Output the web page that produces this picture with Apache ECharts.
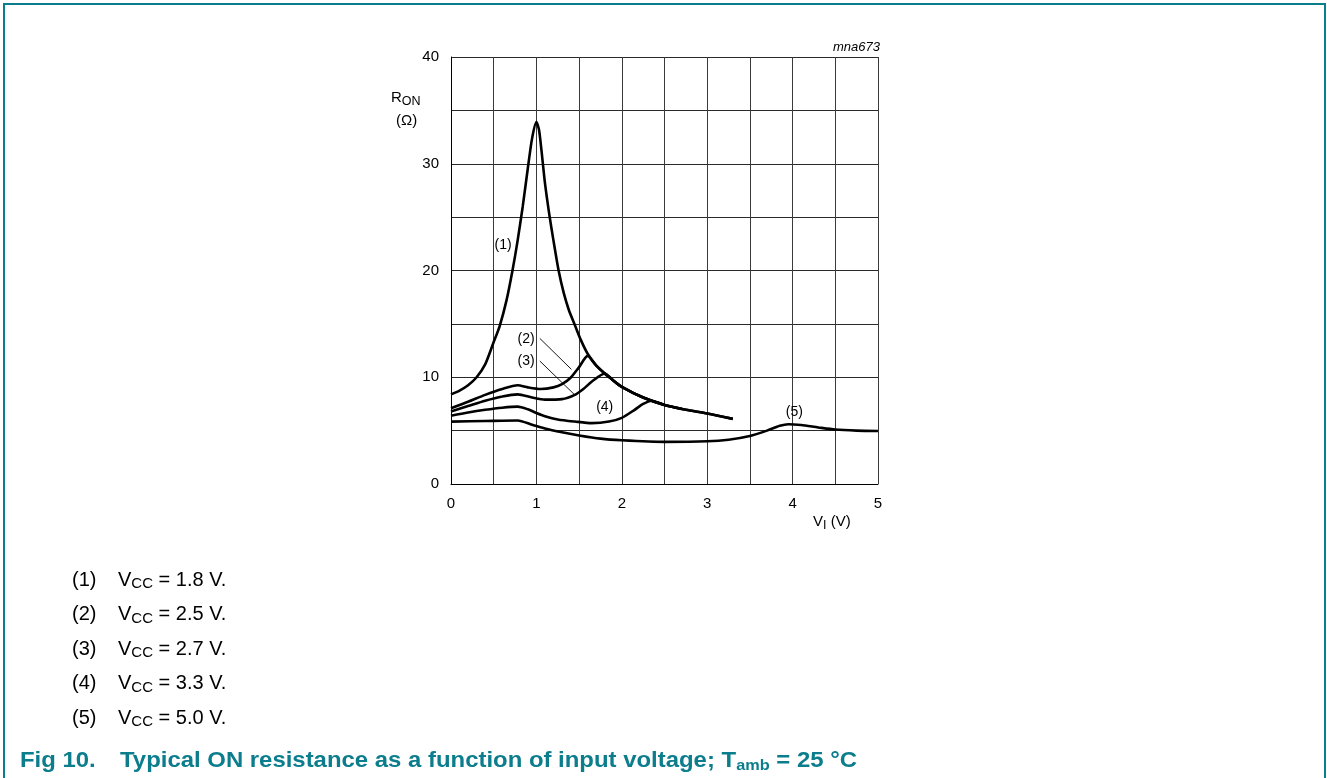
<!DOCTYPE html>
<html><head><meta charset="utf-8">
<script src="https://cdn.jsdelivr.net/npm/echarts@6/dist/echarts.min.js"></script>
<style>
html,body{margin:0;padding:0;background:#fff;overflow:hidden;}
#frame{position:absolute;left:3px;top:3px;width:1323px;height:800px;border:2px solid #0a7e8c;border-bottom:none;box-sizing:border-box;}
#chart{position:absolute;left:0;top:0;width:1327px;height:778px;}
</style></head><body>
<div id="frame"></div>
<div id="chart"></div>
<script>
// ---- data ----
const vi1 = [0,0.1,0.2,0.3,0.4,0.5,0.57,0.65,0.72,0.78,0.84,0.9,0.95,1.0,1.03,1.06,1.1,1.15,1.2,1.26,1.32,1.38,1.45,1.52,1.6,1.7,1.8,1.9,2.0,2.25,2.5,2.75,3.0,3.3];
const ron1 = [8.4,8.75,9.25,10.0,11.2,13.3,14.8,17.2,20.0,22.8,26.0,29.6,32.4,33.9,33.2,31.2,28.2,25.3,22.8,20.0,17.9,16.3,14.9,13.5,12.2,11.1,10.35,9.7,9.1,8.1,7.4,6.95,6.6,6.1];
const vi2 = [0,0.2,0.4,0.6,0.78,0.9,1.05,1.2,1.3,1.4,1.5,1.6,1.7,1.8,1.9,2.0,2.25,2.5];
const ron2 = [7.1,7.7,8.35,8.9,9.25,9.05,8.9,9.05,9.35,9.95,10.95,12.0,11.1,10.35,9.7,9.1,8.1,7.4];
const vi3 = [0,0.2,0.4,0.6,0.78,0.95,1.1,1.3,1.45,1.55,1.65,1.8,1.9,2.0,2.25,2.5,2.7];
const ron3 = [6.8,7.3,7.8,8.2,8.4,8.1,7.9,7.95,8.35,8.9,9.6,10.35,9.7,9.1,8.1,7.4,7.05];
const vi4 = [0,0.2,0.4,0.6,0.78,0.9,1.0,1.1,1.25,1.45,1.65,1.85,2.0,2.15,2.25,2.35,2.5,2.75,3.0,3.3];
const ron4 = [6.4,6.7,6.95,7.15,7.25,7.0,6.65,6.35,6.05,5.85,5.7,5.85,6.2,6.95,7.5,7.8,7.4,6.95,6.6,6.1];
const vi5 = [0,0.4,0.78,0.95,1.1,1.3,1.5,1.75,2.0,2.5,3.0,3.25,3.5,3.7,3.85,3.95,4.1,4.3,4.5,4.75,5.0];
const ron5 = [5.84,5.9,5.95,5.55,5.2,4.85,4.55,4.25,4.1,3.95,4.0,4.15,4.5,5.0,5.45,5.6,5.52,5.3,5.1,5.0,4.96];

const curveTags = ['(1)','(2)','(3)','(4)','(5)'];
const vccValues = ['1.8','2.5','2.7','3.3','5.0'];
// curve tag positions (data coordinates)
const tagX = [0.61,0.88,0.88,1.80,4.02];
const tagY = [22.4,13.55,11.47,7.24,6.77];
// leader lines for tags (2) and (3)
const leader2 = [[1.04,13.64],[1.41,10.74]];
const leader3 = [[1.04,11.52],[1.45,8.34]];

const xTicks = [0,1,2,3,4,5];
const yTicks = [0,10,20,30,40];

// ---- chart ----
const FONT = "'Liberation Sans', Arial, Helvetica, sans-serif";
const cv = document.createElement('canvas').getContext('2d');
function tw(t, f){ cv.font = f; return cv.measureText(t).width; }
function zip(a,b){ return a.map((v,i)=>[v,b[i]]); }

const curves = [[vi1,ron1],[vi2,ron2],[vi3,ron3],[vi4,ron4],[vi5,ron5]];
const series = curves.map((c,i)=>({
  type:'line', name:'Vcc'+vccValues[i], data: zip(c[0],c[1]),
  showSymbol:false, smooth:0.25, silent:true,
  lineStyle:{color:'#000', width:2.6}, z:3
}));
series.push({type:'line', data:leader2, showSymbol:false, silent:true, lineStyle:{color:'#000', width:0.9}, z:2});
series.push({type:'line', data:leader3, showSymbol:false, silent:true, lineStyle:{color:'#000', width:0.9}, z:2});
series.push({
  type:'scatter', symbolSize:1, silent:true, z:4, itemStyle:{opacity:0},
  data: curveTags.map((t,i)=>[tagX[i],tagY[i],t]),
  label:{show:true, position:'inside', formatter:p=>p.data[2], color:'#000', fontSize:14,
    fontFamily:FONT, textBorderWidth:0, opacity:1}
});

// graphic texts
const G = [];
function parts2els(parts){
  let x = 0; const els = [];
  parts.forEach(p=>{
    els.push({type:'text', x:x, y:(p.dy||0), silent:true,
      style:{text:p.t, font:p.f, fill:p.c||'#000', align:'left', verticalAlign:'middle'}});
    x += tw(p.t, p.f);
  });
  return {els, width:x};
}
function run(parts, x0, y, sx){
  const r = parts2els(parts);
  G.push({type:'group', x:x0, y:y, scaleX:sx||1, silent:true, children:r.els});
  return r.width;
}
// legend lines
const LF = '20px ' + FONT, LS = '15px ' + FONT;
const legY = [580,614.5,649,683.5,718];
curveTags.forEach((t,i)=>{
  run([{t:t, f:LF}], 72, legY[i]);
  run([{t:'V', f:LF},{t:'CC', f:LS, dy:4},{t:' = '+vccValues[i]+' V.', f:LF}], 118, legY[i]);
});
// title
const TC = '#0b7d8c';
const TF = 'bold 22px ' + FONT, TS = 'bold 15px ' + FONT;
const titleParts = [{t:'Typical ON resistance as a function of input voltage; T', f:TF, c:TC},
     {t:'amb', f:TS, c:TC, dy:5},
     {t:' = 25 °C', f:TF, c:TC}];
const natW = parts2els(titleParts).width;
const tsx = (857 - 120) / natW;
run([{t:'Fig 10.', f:TF, c:TC}], 20, 761, tsx);
run(titleParts, 120, 761, tsx);
// y axis name
const AF = '15px ' + FONT, AS = '12.5px ' + FONT;
run([{t:'R', f:AF},{t:'ON', f:AS, dy:4}], 391, 98);
run([{t:'(Ω)', f:AF}], 396, 121);
// x axis name
run([{t:'V', f:AF},{t:'I', f:AS, dy:4},{t:' (V)', f:AF}], 813, 522);
// figure code
G.push({type:'text', x:880, y:47, silent:true,
  style:{text:'mna673', font:'italic 13px '+FONT, fill:'#000', align:'right', verticalAlign:'middle'}});

const chart = echarts.init(document.getElementById('chart'), null, {renderer:'canvas'});
chart.setOption({
  animation:false,
  backgroundColor:'transparent',
  grid:{left:451, top:57, width:427, height:427, containLabel:false},
  xAxis:{type:'value', min:0, max:5, interval:0.5,
    axisLine:{show:true, lineStyle:{color:'#000', width:1}},
    axisTick:{show:false},
    splitLine:{show:true, lineStyle:{color:'#3a3a3a', width:1}},
    axisLabel:{color:'#000', fontSize:15, fontFamily:FONT, margin:12,
      formatter:v=> xTicks.indexOf(v)>=0 ? String(v) : ''}},
  yAxis:{type:'value', min:0, max:40, interval:5,
    axisLine:{show:true, lineStyle:{color:'#000', width:1}},
    axisTick:{show:false},
    splitLine:{show:true, lineStyle:{color:'#2a2a2a', width:1}},
    axisLabel:{color:'#000', fontSize:15, fontFamily:FONT, margin:12,
      formatter:v=> yTicks.indexOf(v)>=0 ? String(v) : ''}},
  series: series,
  graphic: G
});
</script>
</body></html>
